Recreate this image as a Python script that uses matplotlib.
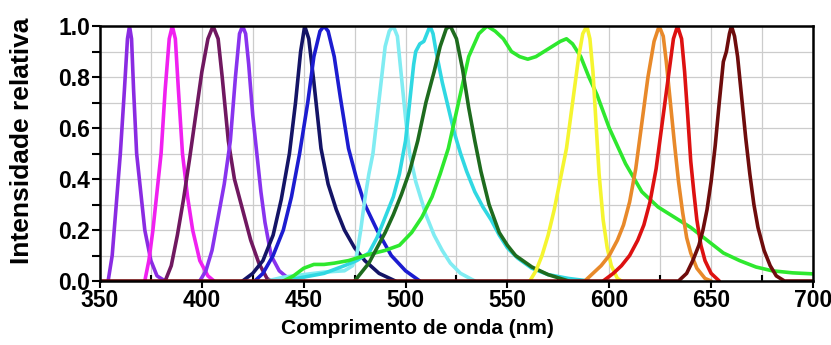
import matplotlib
matplotlib.use("Agg")
import matplotlib.pyplot as plt
from matplotlib.ticker import MultipleLocator

# --------------------------------------------------------------------------- #
# Normalised LED emission spectra (nm, relative intensity)
# --------------------------------------------------------------------------- #
uv365_nm = [354, 356, 358, 360, 362, 363.5, 364.5, 365.5, 366.5, 368, 370, 372, 375, 378, 382]
uv365_i  = [0, 0.1, 0.3, 0.5, 0.75, 0.95, 1.0, 0.95, 0.75, 0.5, 0.35, 0.2, 0.08, 0.02, 0]

mag386_nm = [372, 374, 376, 378, 380, 382, 384, 385.5, 387, 388.5, 390.5, 393, 395.5, 399, 403, 406]
mag386_i  = [0, 0.08, 0.2, 0.35, 0.5, 0.75, 0.95, 1.0, 0.95, 0.75, 0.5, 0.33, 0.2, 0.08, 0.02, 0]

pur406_nm = [382, 385, 388, 391, 394, 397, 400, 403, 405.5, 408, 410, 413, 416, 420, 424, 428, 432, 434]
pur406_i  = [0, 0.06, 0.18, 0.32, 0.48, 0.65, 0.82, 0.95, 1.0, 0.95, 0.8, 0.55, 0.4, 0.28, 0.16, 0.07, 0.01, 0]

vio420_nm = [399, 402, 405, 408, 411, 414, 416.5, 418.5, 420, 421.5, 423, 425, 427, 429, 431, 434, 438, 444]
vio420_i  = [0, 0.04, 0.12, 0.25, 0.38, 0.55, 0.8, 0.97, 1.0, 0.97, 0.85, 0.65, 0.5, 0.35, 0.23, 0.1, 0.04, 0]

navy451_nm = [420, 425, 430, 435, 439, 443, 446, 448.5, 450.5, 452.5, 455, 458.5, 462, 466, 470, 475, 480, 487, 495]
navy451_i  = [0, 0.03, 0.08, 0.18, 0.32, 0.5, 0.7, 0.9, 1.0, 0.95, 0.78, 0.52, 0.38, 0.28, 0.2, 0.13, 0.08, 0.03, 0]

blue460_nm = [426, 430, 435, 440, 444, 448, 452, 455, 458, 460, 462, 465, 468, 472, 476, 480, 486, 493, 500, 507]
blue460_i  = [0, 0.03, 0.1, 0.2, 0.33, 0.5, 0.7, 0.88, 0.98, 1.0, 0.98, 0.88, 0.72, 0.52, 0.4, 0.3, 0.2, 0.1, 0.04, 0]

lcyan494_nm = [432, 440, 450, 460, 470, 474, 476, 478, 480, 482, 484, 486, 488, 490, 492, 494,
               496, 498, 500, 502, 505, 510, 514, 518, 522, 527, 534]
lcyan494_i  = [0, 0.015, 0.025, 0.035, 0.04, 0.06, 0.1, 0.2, 0.32, 0.42, 0.5, 0.64, 0.78, 0.92, 0.98, 1.0,
               0.96, 0.8, 0.64, 0.5, 0.39, 0.26, 0.18, 0.12, 0.07, 0.03, 0]

cyan512_nm = [440, 450, 460, 470, 476, 482, 486, 490, 494, 497, 500, 502, 504, 505, 507, 509, 511, 512,
              513.5, 515, 518, 521, 524, 527, 530, 534, 538, 542, 546, 550, 555, 562, 570, 580, 590]
cyan512_i  = [0, 0.015, 0.03, 0.06, 0.08, 0.11, 0.17, 0.25, 0.33, 0.42, 0.55, 0.7, 0.85, 0.9, 0.93, 0.94, 0.98, 1.0,
              0.97, 0.9, 0.78, 0.68, 0.58, 0.5, 0.43, 0.35, 0.29, 0.24, 0.18, 0.13, 0.09, 0.05, 0.025, 0.01, 0]

dgreen521_nm = [475, 478, 482, 486, 490, 494, 498, 502, 506, 510, 514, 517, 520, 522, 525, 528, 531,
                534, 537, 541, 546, 550, 554, 562, 570, 580]
dgreen521_i  = [0, 0.03, 0.07, 0.13, 0.19, 0.26, 0.34, 0.43, 0.55, 0.7, 0.82, 0.92, 0.99, 1.0, 0.95, 0.83, 0.68,
                0.55, 0.43, 0.3, 0.19, 0.14, 0.1, 0.055, 0.025, 0]

green540_nm = [440, 445, 450, 455, 460, 465, 472, 480, 490, 497, 503, 508, 513, 517, 521, 526, 531, 536, 540,
               544, 548, 552, 556, 560, 564, 568, 572, 576, 579, 582, 586, 590, 594, 600, 608, 616, 624,
               632, 640, 648, 656, 664, 672, 680, 690, 700]
green540_i  = [0, 0.02, 0.05, 0.065, 0.065, 0.07, 0.08, 0.1, 0.12, 0.14, 0.19, 0.25, 0.33, 0.42, 0.52, 0.7, 0.88,
               0.97, 1.0, 0.98, 0.95, 0.9, 0.88, 0.87, 0.88, 0.9, 0.92, 0.94, 0.95, 0.93, 0.88, 0.8, 0.73,
               0.6, 0.46, 0.35, 0.29, 0.25, 0.21, 0.16, 0.11, 0.08, 0.055, 0.04, 0.032, 0.028]

yel589_nm = [561, 564, 567, 570, 573, 576, 579, 582, 585, 587, 589, 590.5, 592, 593.5, 595, 597, 599, 601, 604, 606]
yel589_i  = [0, 0.04, 0.1, 0.18, 0.28, 0.4, 0.52, 0.7, 0.88, 0.97, 1.0, 0.95, 0.82, 0.62, 0.42, 0.24, 0.13, 0.06, 0.01, 0]

ora625_nm = [588, 592, 596, 600, 604, 607, 610, 613, 616, 619, 622, 624.5, 626.5, 628, 630, 632, 634,
             636, 638, 640, 643, 647, 650]
ora625_i  = [0, 0.03, 0.06, 0.1, 0.16, 0.22, 0.31, 0.44, 0.62, 0.8, 0.94, 1.0, 0.96, 0.86, 0.7, 0.54, 0.39,
             0.27, 0.17, 0.11, 0.05, 0.01, 0]

red633_nm = [597, 602, 606, 610, 614, 617, 620, 623, 626, 629, 631.5, 633.5, 635.5, 637, 638.5, 640,
             641.5, 643, 645, 647, 650, 654]
red633_i  = [0, 0.03, 0.06, 0.1, 0.16, 0.22, 0.31, 0.44, 0.62, 0.8, 0.95, 1.0, 0.95, 0.82, 0.65, 0.47,
             0.35, 0.24, 0.14, 0.08, 0.03, 0]

# maroon trace also carries the flat baseline along the whole range
mar660_nm = [350, 634, 638, 641, 644, 646, 648, 650, 652, 654, 656, 657.5, 659, 660, 661.5, 663, 665,
             667, 669, 671, 673, 676, 679, 682, 686, 700]
mar660_i  = [0, 0, 0.03, 0.08, 0.14, 0.2, 0.28, 0.39, 0.53, 0.7, 0.86, 0.9, 0.97, 1.0, 0.96, 0.88, 0.72,
             0.56, 0.42, 0.3, 0.21, 0.12, 0.06, 0.02, 0, 0]

curves = [
    (uv365_nm, uv365_i, "#8a2be2"),
    (mag386_nm, mag386_i, "#f020f0"),
    (pur406_nm, pur406_i, "#701860"),
    (vio420_nm, vio420_i, "#8833ee"),
    (navy451_nm, navy451_i, "#141466"),
    (blue460_nm, blue460_i, "#1c1cd0"),
    (lcyan494_nm, lcyan494_i, "#80ecf2"),
    (cyan512_nm, cyan512_i, "#30d8e2"),
    (green540_nm, green540_i, "#2ee82e"),
    (dgreen521_nm, dgreen521_i, "#1e6b1e"),
    (yel589_nm, yel589_i, "#f5f530"),
    (ora625_nm, ora625_i, "#e8892a"),
    (red633_nm, red633_i, "#dd1111"),
    (mar660_nm, mar660_i, "#6e0c0c"),
]

plt.rcParams["font.family"] = ["Liberation Sans", "DejaVu Sans"]

fig = plt.figure(figsize=(8.31, 3.45), dpi=100)
ax = fig.add_axes([0.1203, 0.1855, 0.858, 0.739])

for nm, inten, colour in curves:
    ax.plot(nm, inten, color=colour, lw=2.6, solid_joinstyle="round", solid_capstyle="round")

ax.set_xlim(350, 700)
ax.set_ylim(0, 1.0)
ax.xaxis.set_major_locator(MultipleLocator(50))
ax.xaxis.set_minor_locator(MultipleLocator(25))
ax.yaxis.set_major_locator(MultipleLocator(0.2))
ax.yaxis.set_minor_locator(MultipleLocator(0.1))
ax.yaxis.set_major_formatter(plt.FormatStrFormatter("%.1f"))

ax.grid(which="both", color="#cccccc", lw=0.9)
ax.set_axisbelow(True)

for s in ax.spines.values():
    s.set_linewidth(1.8)
    s.set_color("black")

ax.tick_params(axis="x", which="major", direction="out", length=5, width=1.5, pad=1)
ax.tick_params(axis="x", which="minor", direction="in", length=4, width=1.5)
ax.tick_params(axis="y", which="both", direction="out", length=6, width=1.5, pad=1)
for lab in ax.get_xticklabels() + ax.get_yticklabels():
    lab.set_fontsize(16.5)
    lab.set_fontweight("bold")

ax.set_xlabel("Comprimento de onda (nm)", fontsize=15, fontweight="bold")
ax.xaxis.set_label_coords(0.445, -0.15)
ax.set_ylabel("Intensidade relativa", fontsize=19, fontweight="bold")
ax.yaxis.set_label_coords(-0.092, 0.55)

fig.savefig("out.png", dpi=100)
